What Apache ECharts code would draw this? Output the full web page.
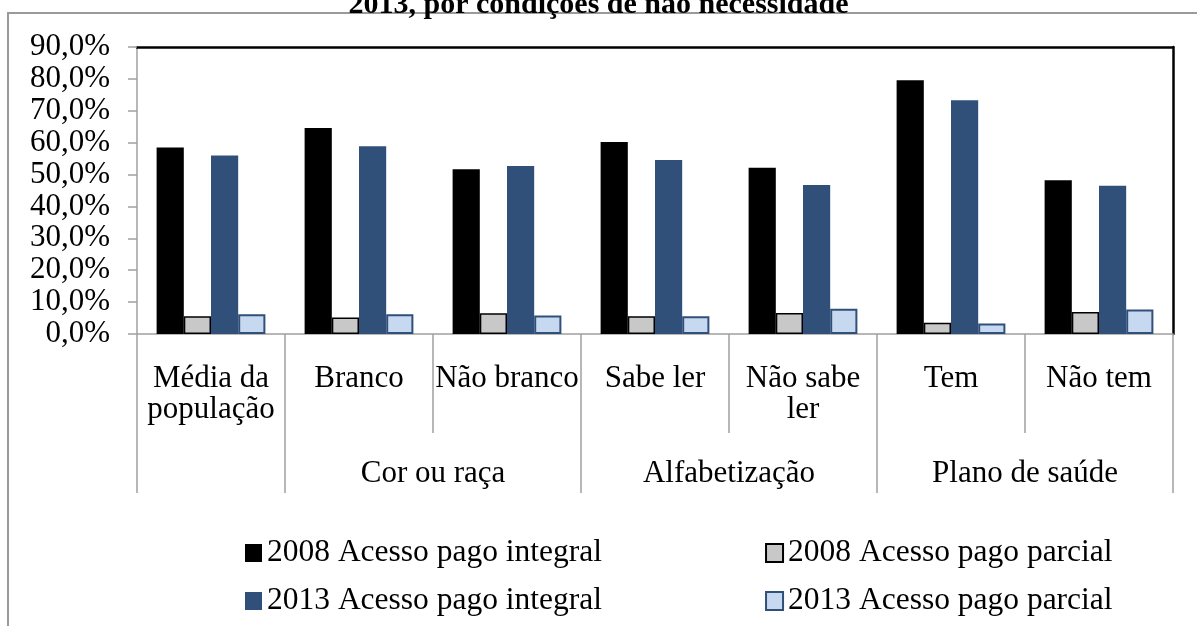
<!DOCTYPE html>
<html>
<head>
<meta charset="utf-8">
<script src="https://cdn.jsdelivr.net/npm/echarts@6/dist/echarts.min.js"></script>
<style>html,body{margin:0;padding:0;background:#fff;}#c{width:1197px;height:626px;}</style>
</head>
<body>
<div id="c"></div>
<script>
// ---- data ----
const categories = ['Média da\npopulação', 'Branco', 'Não branco', 'Sabe ler', 'Não sabe\nler', 'Tem', 'Não tem'];
// group labels placed on half-category points (15 points: boundaries and centres)
const groupLabels = ['', '', '', '', 'Cor ou raça', '', '', '', 'Alfabetização', '', '', '', 'Plano de saúde', '', ''];
const groupBoundaryIdx = [0, 2, 6, 10, 14];
const seriesNames = ['2008 Acesso pago integral', '2008 Acesso pago parcial', '2013 Acesso pago integral', '2013 Acesso pago parcial'];
const integral2008 = [58.5, 64.6, 51.7, 60.2, 52.1, 79.6, 48.2];
const parcial2008  = [5.6, 5.2, 6.5, 5.6, 6.6, 3.5, 6.9];
const integral2013 = [56.0, 58.9, 52.7, 54.6, 46.7, 73.3, 46.5];
const parcial2013  = [6.2, 6.2, 5.8, 5.6, 7.9, 3.3, 7.7];
const yTicks = {min: 0, max: 90, interval: 10};
const titleText = '2013, por condições de não necessidade';

const FONT = 'Liberation Serif, Times New Roman, serif';
const GREY = '#a0a0a0';
const chart = echarts.init(document.getElementById('c'));

const mk = (name, data, color, border, bw) => ({
  name, type: 'bar', data, xAxisIndex: 0, yAxisIndex: 0,
  barGap: '0%', barCategoryGap: '26.5%',
  itemStyle: {color, borderColor: border, borderWidth: bw},
  emphasis: {disabled: true}
});

const legendCommon = {
  left: 245, orient: 'horizontal', padding: 0, icon: 'rect',
  itemWidth: 17, itemHeight: 18, itemGap: 163,
  textStyle: {fontFamily: FONT, fontSize: 31.5, color: '#000', lineHeight: 32},
  selectedMode: false
};

chart.setOption({
  animation: false,
  backgroundColor: '#fff',
  title: {
    text: titleText, left: 'center', top: -15,
    textStyle: {fontFamily: FONT, fontWeight: 'bold', fontSize: 30, color: '#000'}
  },
  graphic: [{
    type: 'rect', z: -10, silent: true,
    shape: {x: 8, y: 13, width: 1400, height: 800},
    style: {fill: 'none', stroke: '#9a9a9a', lineWidth: 2}
  }],
  grid: {left: 137, right: 24, top: 47, bottom: 292, containLabel: false},
  legend: [
    Object.assign({data: [seriesNames[0], seriesNames[1]], top: 537}, legendCommon),
    Object.assign({data: [seriesNames[2], seriesNames[3]], top: 585}, legendCommon)
  ],
  xAxis: [{
    type: 'category', data: categories, position: 'bottom',
    axisLine: {lineStyle: {color: GREY, width: 1.5}},
    axisTick: {show: true, length: 99, interval: 0, lineStyle: {color: GREY, width: 1.5}},
    axisLabel: {interval: 0, margin: 29, fontFamily: FONT, fontSize: 31, color: '#000', lineHeight: 31},
    splitLine: {show: false}
  }, {
    type: 'category', data: groupLabels, position: 'bottom', boundaryGap: false,
    gridIndex: 0,
    axisLine: {show: false},
    axisTick: {show: true, length: 159, interval: (i) => groupBoundaryIdx.includes(i), lineStyle: {color: GREY, width: 1.5}},
    axisLabel: {interval: 0, margin: 124, fontFamily: FONT, fontSize: 31, color: '#000', lineHeight: 31},
    splitLine: {show: false}
  }, {
    type: 'category', data: categories, position: 'top',
    axisLine: {show: true, lineStyle: {color: '#000', width: 2.5}},
    axisTick: {show: false}, axisLabel: {show: false}, splitLine: {show: false}
  }],
  yAxis: [{
    type: 'value', min: yTicks.min, max: yTicks.max, interval: yTicks.interval,
    axisLine: {show: true, lineStyle: {color: GREY, width: 1.5}},
    axisTick: {show: true, length: 9, lineStyle: {color: GREY, width: 1.5}},
    splitLine: {show: false},
    axisLabel: {
      margin: 27, fontFamily: FONT, fontSize: 31, color: '#000', padding: [6, 0, 0, 0],
      formatter: v => v.toFixed(1).replace('.', ',') + '%'
    }
  }, {
    type: 'value', position: 'right', min: yTicks.min, max: yTicks.max, interval: yTicks.interval,
    axisLine: {show: true, lineStyle: {color: '#000', width: 2.5}},
    axisTick: {show: false}, axisLabel: {show: false}, splitLine: {show: false}
  }],
  series: [
    mk(seriesNames[0], integral2008, '#000000', '#000000', 0),
    mk(seriesNames[1], parcial2008, '#c8c8c8', '#000000', 1.5),
    mk(seriesNames[2], integral2013, '#30507a', '#30507a', 0),
    mk(seriesNames[3], parcial2013, '#c6d9f0', '#30507a', 2)
  ]
});
</script>
</body>
</html>
